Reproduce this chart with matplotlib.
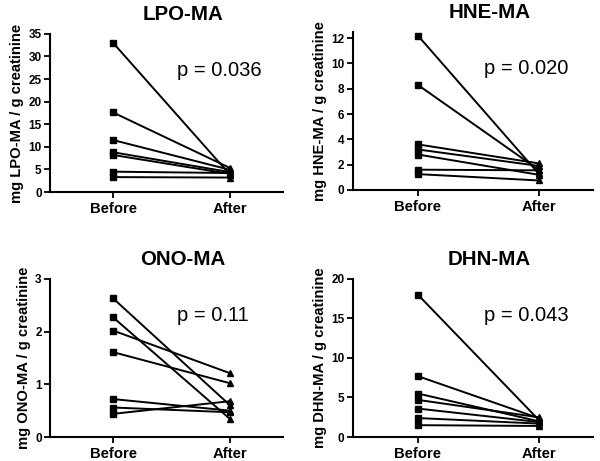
import matplotlib
matplotlib.use("Agg")
import matplotlib.pyplot as plt

plt.rcParams['font.family'] = ['Liberation Sans', 'DejaVu Sans']

# x categories
groups = ["Before", "After"]

# LPO-MA (mg / g creatinine)
lpo_before = [33.0, 17.6, 11.5, 8.8, 8.2, 4.5, 3.3]
lpo_after = [3.8, 5.3, 4.9, 4.4, 4.0, 4.2, 3.2]

# HNE-MA
hne_before = [12.2, 8.3, 3.6, 3.2, 2.8, 1.6, 1.25]
hne_after = [1.3, 1.6, 2.1, 1.9, 1.2, 1.55, 0.75]

# ONO-MA
ono_before = [2.63, 2.27, 2.02, 1.61, 0.72, 0.56, 0.44]
ono_after = [0.6, 0.34, 1.21, 1.02, 0.5, 0.47, 0.68]

# DHN-MA
dhn_before = [18.0, 7.7, 5.5, 4.7, 3.6, 2.4, 1.5]
dhn_after = [2.2, 2.4, 2.0, 2.5, 1.9, 1.7, 1.4]

panels = [
    ("LPO-MA", lpo_before, lpo_after, 35, [0, 5, 10, 15, 20, 25, 30, 35], "p = 0.036"),
    ("HNE-MA", hne_before, hne_after, 12.5, [0, 2, 4, 6, 8, 10, 12], "p = 0.020"),
    ("ONO-MA", ono_before, ono_after, 3, [0, 1, 2, 3], "p = 0.11"),
    ("DHN-MA", dhn_before, dhn_after, 20, [0, 5, 10, 15, 20], "p = 0.043"),
]

# axes rects [left, bottom, width, height] in figure fraction
rects = [
    [0.0833, 0.5835, 0.388, 0.343],
    [0.588, 0.588, 0.400, 0.343],
    [0.0833, 0.052, 0.388, 0.343],
    [0.588, 0.052, 0.400, 0.343],
]

fig = plt.figure(figsize=(6, 4.61), dpi=100)

for (name, before, after, ymax, yticks, ptxt), rect in zip(panels, rects):
    ax = fig.add_axes(rect)
    for b, a in zip(before, after):
        ax.plot([0, 1], [b, a], color="black", lw=1.4, zorder=2)
    ax.plot([0] * len(before), before, "s", color="black", ms=4.5, zorder=3)
    ax.plot([1] * len(after), after, "^", color="black", ms=5, zorder=3)

    ax.set_xlim(-0.54, 1.45)
    ax.set_ylim(0, ymax)
    ax.set_yticks(yticks)
    ax.set_xticks([0, 1])
    ax.set_xticklabels(groups, fontsize=10.7, fontweight="bold")
    for lab in ax.get_yticklabels():
        lab.set_fontsize(8.5)
        lab.set_fontweight("bold")
    ax.tick_params(axis="both", direction="out", length=4, width=1.3, pad=2)
    ax.tick_params(axis="x", pad=3)
    for side in ["top", "right"]:
        ax.spines[side].set_visible(False)
    for side in ["left", "bottom"]:
        ax.spines[side].set_linewidth(1.5)

    ax.set_ylabel("mg " + name + " / g creatinine", fontsize=10.6, fontweight="bold", labelpad=3)
    ax.text(0.57, 1.12, name, transform=ax.transAxes, ha="center", va="center",
            fontsize=14.8, fontweight="bold")
    ax.text(0.545, 0.767, ptxt, transform=ax.transAxes, ha="left", va="center", fontsize=14.5)

fig.savefig("out.png", dpi=100)
